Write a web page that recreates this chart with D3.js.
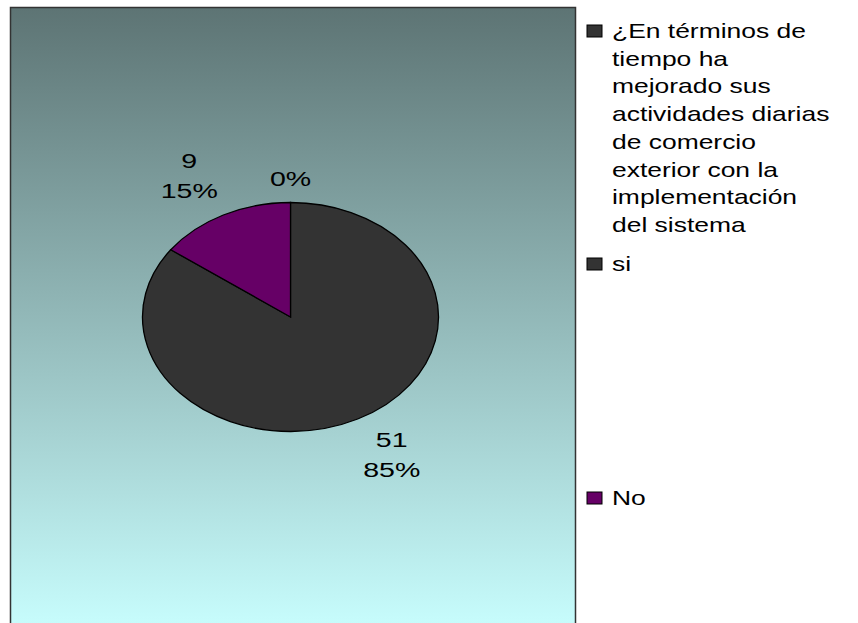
<!DOCTYPE html>
<html>
<head>
<meta charset="utf-8">
<script src="https://cdn.jsdelivr.net/npm/d3@7"></script>
<style>
html,body{margin:0;padding:0;background:#fff;}
svg{display:block;}
text{font-family:"Liberation Sans",Arial,sans-serif;fill:#000;}
</style>
</head>
<body>
<svg id="chart" width="858" height="623"></svg>
<script>
const categories = ["¿En términos de tiempo ha mejorado sus actividades diarias de comercio exterior con la implementación del sistema", "si", "No"];
const values = [0, 51, 9];
const colors = ["#333333", "#333333", "#660066"];
const legendLines = [
  ["¿En términos de", "tiempo ha", "mejorado sus", "actividades diarias", "de comercio", "exterior con la", "implementación", "del sistema"],
  ["si"],
  ["No"]
];

const svg = d3.select("#chart");

// background gradient of plot area
const defs = svg.append("defs");
const grad = defs.append("linearGradient").attr("id", "bg").attr("x1", 0).attr("y1", 0).attr("x2", 0).attr("y2", 1);
grad.append("stop").attr("offset", "0%").attr("stop-color", "#5d7474");
grad.append("stop").attr("offset", "100%").attr("stop-color", "#c9ffff");

svg.append("rect").attr("x", 10.5).attr("y", 7.5).attr("width", 565).attr("height", 630)
  .attr("fill", "url(#bg)").attr("stroke", "#333").attr("stroke-width", 1.5);

const cx = 290.5, cy = 317, rx = 148, ry = 114.5;
const total = d3.sum(values);
const pie = d3.pie().sort(null).value(d => d)(values);
const arc = d3.arc().innerRadius(0).outerRadius(rx);

const g = svg.append("g").attr("transform", `translate(${cx},${cy}) scale(1,${ry / rx})`);
g.selectAll("path").data(pie).join("path")
  .attr("d", arc)
  .attr("fill", (d, i) => colors[i])
  .attr("stroke", "#000")
  .attr("stroke-width", 1.3)
  .attr("vector-effect", "non-scaling-stroke");

const fmtPct = d => Math.round(d / total * 100) + "%";
const fs = 21, lh = 30, labelStretch = 1.36;
pie.forEach((d, i) => {
  const a = (d.startAngle + d.endAngle) / 2;
  const s = Math.sin(a), c = Math.cos(a);
  const px = cx + rx * s, py = cy - ry * c;
  const lines = d.value === 0 ? [fmtPct(d.value)] : [String(d.value), fmtPct(d.value)];
  const x = px + s * 75;
  let firstBase;
  if (c > 0) {
    const lastBase = py - 16.5;
    firstBase = lastBase - (lines.length - 1) * lh;
  } else {
    firstBase = py + 27.7;
  }
  lines.forEach((l, k) => {
    svg.append("text").attr("text-anchor", "middle").attr("font-size", fs)
      .attr("transform", `translate(${x},${firstBase + k * lh}) scale(${labelStretch},1)`)
      .text(l);
  });
});

// legend
const legendY = [38, 271, 505];
const lgh = 27.7, legStretch = 1.29;
legendLines.forEach((lines, i) => {
  const y0 = legendY[i];
  svg.append("rect").attr("x", 587).attr("y", y0 - 13).attr("width", 15).attr("height", 12)
    .attr("fill", colors[i]).attr("stroke", "#000").attr("stroke-width", 1);
  lines.forEach((l, k) => {
    svg.append("text").attr("font-size", 20.5)
      .attr("transform", `translate(612,${y0 + k * lgh}) scale(${legStretch},1)`)
      .text(l);
  });
});
</script>
</body>
</html>
